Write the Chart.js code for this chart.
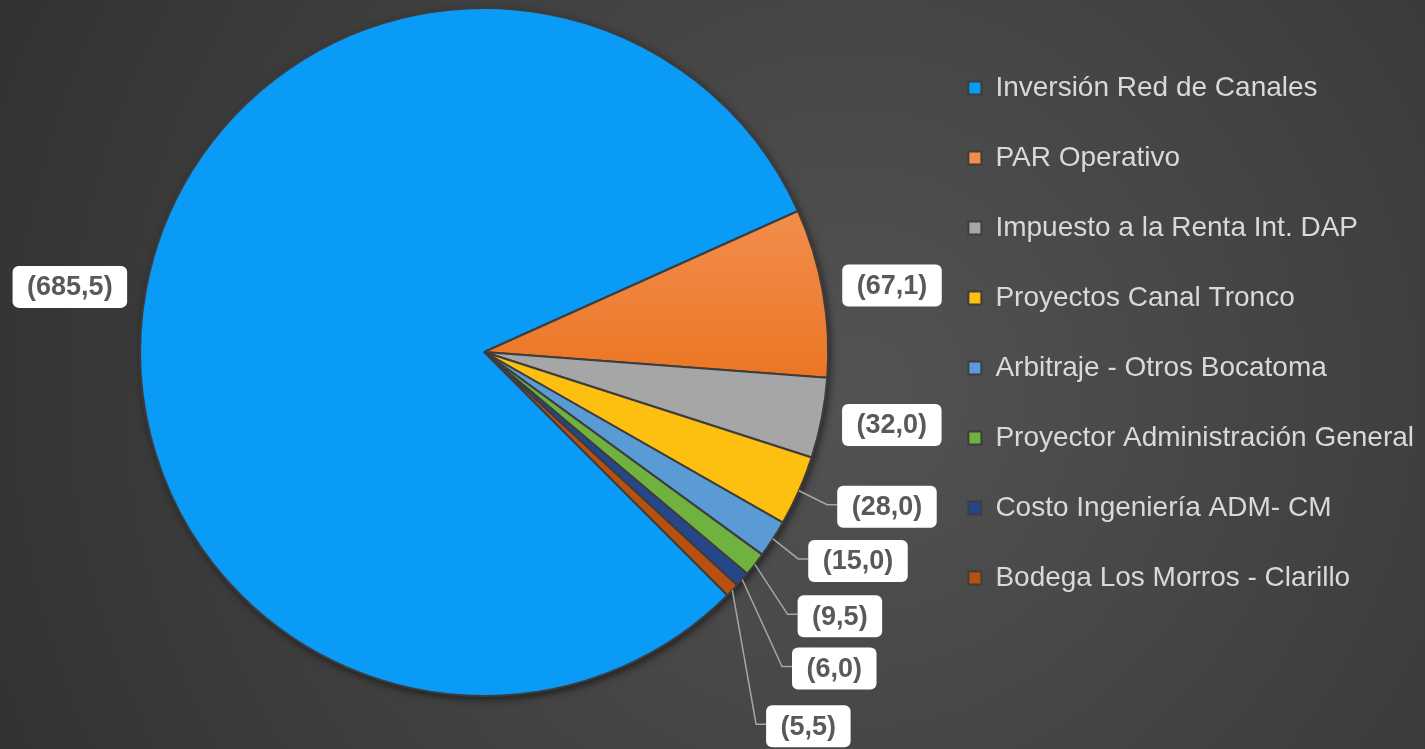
<!DOCTYPE html>
<html>
<head>
<meta charset="utf-8">
<script src="https://cdn.jsdelivr.net/npm/chart.js@4.4.1/dist/chart.umd.min.js"></script>
<style>
  html, body { margin: 0; padding: 0; background: #404040; }
  #wrap { width: 1425px; height: 749px; position: relative; }
</style>
</head>
<body>
<div id="wrap"><canvas id="pieChart"></canvas></div>
<script>
const categories = [
    'Inversión Red de Canales',
    'PAR Operativo',
    'Impuesto a la Renta Int. DAP',
    'Proyectos Canal Tronco',
    'Arbitraje - Otros Bocatoma',
    'Proyector Administración General',
    'Costo Ingeniería ADM- CM',
    'Bodega Los Morros - Clarillo'
];
const values = [685.5, 67.1, 32.0, 28.0, 15.0, 9.5, 6.0, 5.5];
const colors = ['#0a9bf6', '#ee7d2f', '#a6a6a6', '#fdc010', '#5a9bd5', '#6fb23f', '#25478a', '#b8500f'];

// ラベル位置（扇形の外周中点からのずれ）と引き出し線の有無
const labelOffsets = [[-76, -3], [69, -7], [70, 7], [88, 16], [85, 22], [85, 52], [92, 89], [76, 136]];
const leaderLine = [false, false, false, true, true, true, true, true];

const fmt = v => '(' + v.toFixed(1).replace('.', ',') + ')';

// 背景のグラデーション
const bgPlugin = {
    id: 'bg',
    beforeDraw(chart) {
        const {ctx, width, height} = chart;
        const g = ctx.createRadialGradient(width * 0.6, height * 0.52, 0, width * 0.6, height * 0.52, width * 0.65);
        g.addColorStop(0, '#535353');
        g.addColorStop(1, '#323232');
        ctx.save();
        ctx.fillStyle = g;
        ctx.fillRect(0, 0, width, height);
        ctx.restore();
    }
};

// 円の影
const shadowPlugin = {
    id: 'pieShadow',
    beforeDatasetsDraw(chart) {
        const arc = chart.getDatasetMeta(0).data[0];
        if (!arc) return;
        const {ctx} = chart;
        ctx.save();
        ctx.shadowColor = 'rgba(0,0,0,0.6)';
        ctx.shadowBlur = 8;
        ctx.shadowOffsetX = 2;
        ctx.shadowOffsetY = 3;
        ctx.fillStyle = '#404040';
        ctx.beginPath();
        ctx.arc(arc.x, arc.y, arc.outerRadius, 0, Math.PI * 2);
        ctx.fill();
        ctx.restore();
    }
};

// 白い箱のデータラベル
const labelPlugin = {
    id: 'boxLabels',
    afterDatasetsDraw(chart) {
        const {ctx} = chart;
        const meta = chart.getDatasetMeta(0);
        ctx.save();
        ctx.font = 'bold 27px "Liberation Sans", Arial, sans-serif';
        ctx.textAlign = 'center';
        ctx.textBaseline = 'middle';
        meta.data.forEach((arc, i) => {
            const {x, y, startAngle, endAngle, outerRadius} = arc.getProps(['x', 'y', 'startAngle', 'endAngle', 'outerRadius'], true);
            const mid = (startAngle + endAngle) / 2;
            const px = x + Math.cos(mid) * outerRadius;
            const py = y + Math.sin(mid) * outerRadius;
            const cx = px + labelOffsets[i][0];
            const cy = py + labelOffsets[i][1];
            const text = fmt(values[i]);
            const w = ctx.measureText(text).width + 29;
            const h = 42;
            const left = cx - w / 2;
            if (leaderLine[i]) {
                ctx.strokeStyle = '#a6a6a6';
                ctx.lineWidth = 1.5;
                ctx.beginPath();
                ctx.moveTo(px, py);
                ctx.lineTo(left - 10, cy - 2);
                ctx.lineTo(left, cy - 2);
                ctx.stroke();
            }
            ctx.fillStyle = '#ffffff';
            ctx.beginPath();
            ctx.roundRect(left, cy - h / 2, w, h, 6);
            ctx.fill();
            ctx.fillStyle = '#595959';
            ctx.fillText(text, cx, cy + 1);
        });
        ctx.restore();
    }
};

new Chart(document.getElementById('pieChart'), {
    type: 'pie',
    data: {
        labels: categories,
        datasets: [{
            data: values,
            backgroundColor: c => {
                if (c.dataIndex !== 1 || !c.chart.chartArea) return colors[c.dataIndex];
                const {top, height} = c.chart.chartArea;
                const g = c.chart.ctx.createLinearGradient(0, top + height * 0.3, 0, top + height * 0.55);
                g.addColorStop(0, '#f28d4c');
                g.addColorStop(1, '#ea7522');
                return g;
            },
            borderColor: '#3d3d3d',
            borderWidth: 2
        }]
    },
    options: {
        responsive: true,
        maintainAspectRatio: false,
        animation: false,
        rotation: 135,
        layout: { padding: { top: 7, bottom: 52, left: 42, right: 1 } },
        plugins: {
            legend: {
                position: 'right',
                align: 'start',
                title: { display: true, text: '', padding: { top: 13, bottom: 0 }, font: { size: 10 } },
                labels: {
                    color: '#d9d9d9',
                    font: { size: 28, family: '"Liberation Sans", Arial, sans-serif' },
                    boxWidth: 13,
                    boxHeight: 13,
                    padding: 42
                }
            },
            tooltip: { enabled: false }
        }
    },
    plugins: [bgPlugin, shadowPlugin, labelPlugin]
});
</script>
</body>
</html>
